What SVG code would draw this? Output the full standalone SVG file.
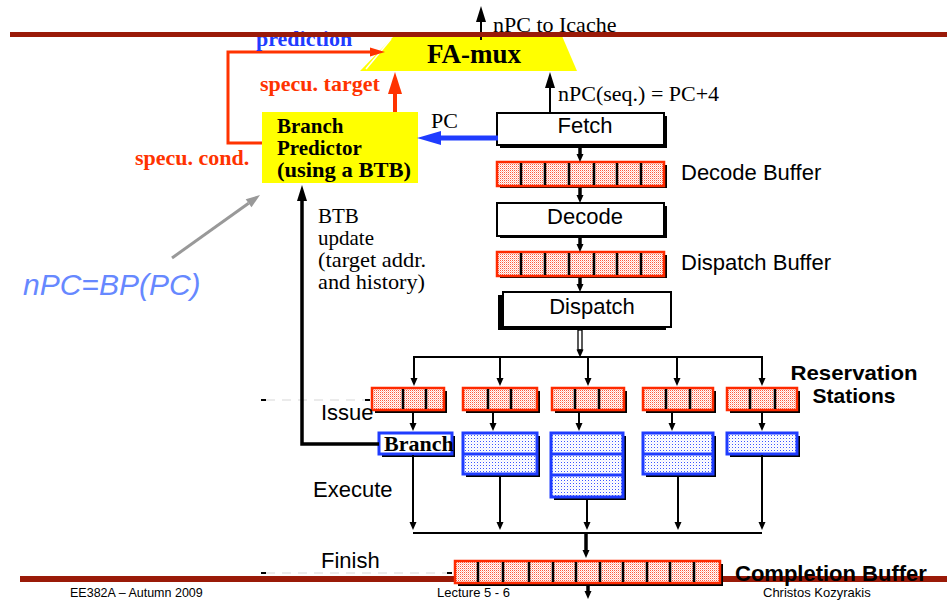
<svg xmlns="http://www.w3.org/2000/svg" width="947" height="600" viewBox="0 0 947 600">
<style>
.sans{font-family:"Liberation Sans",Arial,sans-serif;}
.serif{font-family:"Liberation Serif","Times New Roman",serif;}
.t22{font-size:22px;}
.t21{font-size:21px;}
.b{font-weight:bold;}
.stage{fill:#fff;stroke:#000;stroke-width:2;}
.shadow{fill:#000;}
.rbuf{fill:url(#redDots);stroke:#ff2a00;stroke-width:2.5;}
.fu{fill:url(#blueDots);stroke:#1f3cff;stroke-width:3;}
.fuw{fill:#fff;stroke:#1f3cff;stroke-width:3;}
.div{stroke:#000;stroke-width:2.5;}
.fdiv{stroke:#1f3cff;stroke-width:3;}
.conn{fill:none;stroke:#000;stroke-width:2;}
.thick{fill:none;stroke:#000;stroke-width:3.5;}
.dash{stroke:#d8d8d8;stroke-width:1.2;stroke-dasharray:9 7;}
.tick{stroke:#000;stroke-width:2;}
.brown{fill:#9a1a08;}
.red{fill:#ff3300;}
.blue{fill:#1f3cff;}
</style>
<defs>
<pattern id="redDots" width="2" height="2" patternUnits="userSpaceOnUse">
<rect width="2" height="2" fill="#ffffff"/>
<rect width="1" height="1" fill="#ff5a3c"/>
<rect x="1" y="1" width="1" height="1" fill="#ffc4ba"/>
</pattern>
<pattern id="blueDots" width="3" height="3" patternUnits="userSpaceOnUse">
<rect width="3" height="3" fill="#ffffff"/>
<rect width="1" height="1" fill="#3a55ff"/>
<rect x="1.5" y="1.5" width="1" height="1" fill="#d0d8ff"/>
</pattern>
<marker id="aS" markerUnits="userSpaceOnUse" markerWidth="10" markerHeight="10" refX="0" refY="0" orient="auto" overflow="visible"><path d="M0,-3.5 L8,0 L0,3.5 z" fill="#000"/></marker>
<marker id="aM" markerUnits="userSpaceOnUse" markerWidth="16" markerHeight="12" refX="0" refY="0" orient="auto" overflow="visible"><path d="M0,-5 L16,0 L0,5 z" fill="#000"/></marker>
<marker id="aRed" markerUnits="userSpaceOnUse" markerWidth="22" markerHeight="14" refX="0" refY="0" orient="auto" overflow="visible"><path d="M0,-7 L22,0 L0,7 z" fill="#ff3300"/></marker>
<marker id="aRedS" markerUnits="userSpaceOnUse" markerWidth="15" markerHeight="10" refX="0" refY="0" orient="auto" overflow="visible"><path d="M0,-4.5 L15,0 L0,4.5 z" fill="#ff3300"/></marker>
<marker id="aBlue" markerUnits="userSpaceOnUse" markerWidth="24" markerHeight="14" refX="0" refY="0" orient="auto" overflow="visible"><path d="M0,-7 L24,0 L0,7 z" fill="#1f3cff"/></marker>
<marker id="aGray" markerUnits="userSpaceOnUse" markerWidth="14" markerHeight="10" refX="0" refY="0" orient="auto" overflow="visible"><path d="M0,-5 L14,0 L0,5 z" fill="#999999"/></marker>
</defs>
<rect width="947" height="600" fill="#ffffff"/>

<rect class="brown" x="20" y="576" width="927" height="6"/>

<g id="levels">
<line class="dash" x1="266" y1="400" x2="366" y2="400"/>
<line class="tick" x1="261" y1="400" x2="266" y2="400"/>
<line class="tick" x1="365" y1="400" x2="370" y2="400"/>
<line class="dash" x1="266" y1="573" x2="448" y2="573"/>
<line class="tick" x1="261" y1="573" x2="266" y2="573"/>
<line class="tick" x1="447" y1="573" x2="452" y2="573"/>
</g>

<g id="famux">
<polygon points="394,36 562,36 577,71 360,71" fill="#ffff00"/>
<line x1="391" y1="39" x2="366" y2="69" stroke="#ffffff" stroke-width="1.5"/>
<text class="serif b" x="474" y="63" font-size="27" text-anchor="middle">FA-mux</text>
</g>

<g id="bp">
<rect x="262" y="112" width="156" height="71" fill="#ffff00"/>
<text class="serif b t21" x="277" y="133">Branch</text>
<text class="serif b t21" x="277" y="155">Predictor</text>
<text class="serif b t21" x="277" y="177" textLength="134" lengthAdjust="spacingAndGlyphs">(using a BTB)</text>
</g>

<g id="fetch">
<rect class="shadow" x="500" y="116" width="167" height="32"/>
<rect class="stage" x="497" y="113" width="167" height="32"/>
<text class="sans t22" x="585" y="133" text-anchor="middle">Fetch</text>
</g>
<g id="decodebuf">
<rect class="shadow" x="500" y="165" width="167" height="23"/>
<rect class="rbuf" x="497" y="162" width="167" height="24"/>
<line class="div" x1="521" y1="163" x2="521" y2="185"/>
<line class="div" x1="545" y1="163" x2="545" y2="185"/>
<line class="div" x1="569" y1="163" x2="569" y2="185"/>
<line class="div" x1="594" y1="163" x2="594" y2="185"/>
<line class="div" x1="617" y1="163" x2="617" y2="185"/>
<line class="div" x1="641" y1="163" x2="641" y2="185"/>
<text class="sans t22" x="681" y="180">Decode Buffer</text>
</g>
<g id="decode">
<rect class="shadow" x="500" y="206" width="167" height="32"/>
<rect class="stage" x="497" y="203" width="167" height="33"/>
<text class="sans t22" x="585" y="224" text-anchor="middle">Decode</text>
</g>
<g id="dispatchbuf">
<rect class="shadow" x="500" y="255" width="167" height="23"/>
<rect class="rbuf" x="497" y="252" width="167" height="24"/>
<line class="div" x1="521" y1="253" x2="521" y2="275"/>
<line class="div" x1="545" y1="253" x2="545" y2="275"/>
<line class="div" x1="569" y1="253" x2="569" y2="275"/>
<line class="div" x1="594" y1="253" x2="594" y2="275"/>
<line class="div" x1="617" y1="253" x2="617" y2="275"/>
<line class="div" x1="641" y1="253" x2="641" y2="275"/>
<text class="sans t22" x="681" y="270">Dispatch Buffer</text>
</g>
<g id="dispatch">
<rect class="shadow" x="498" y="295" width="168" height="35"/>
<rect class="stage" x="503" y="292" width="168" height="35"/>
<text class="sans t22" x="592" y="314" text-anchor="middle">Dispatch</text>
</g>

<g id="rs1">
<rect class="shadow" x="375" y="391" width="72" height="22"/>
<rect class="rbuf" x="372" y="388" width="72" height="22"/>
<line class="div" x1="403" y1="389" x2="403" y2="409"/>
<line class="div" x1="426" y1="389" x2="426" y2="409"/>
</g>
<g id="rs2">
<rect class="shadow" x="466" y="391" width="74" height="22"/>
<rect class="rbuf" x="463" y="388" width="74" height="22"/>
<line class="div" x1="488" y1="389" x2="488" y2="409"/>
<line class="div" x1="511" y1="389" x2="511" y2="409"/>
</g>
<g id="rs3">
<rect class="shadow" x="555" y="391" width="72" height="22"/>
<rect class="rbuf" x="552" y="388" width="72" height="22"/>
<line class="div" x1="575" y1="389" x2="575" y2="409"/>
<line class="div" x1="599" y1="389" x2="599" y2="409"/>
</g>
<g id="rs4">
<rect class="shadow" x="646" y="391" width="70" height="22"/>
<rect class="rbuf" x="643" y="388" width="70" height="22"/>
<line class="div" x1="666" y1="389" x2="666" y2="409"/>
<line class="div" x1="690" y1="389" x2="690" y2="409"/>
</g>
<g id="rs5">
<rect class="shadow" x="730" y="391" width="70" height="22"/>
<rect class="rbuf" x="727" y="388" width="70" height="22"/>
<line class="div" x1="750" y1="389" x2="750" y2="409"/>
<line class="div" x1="775" y1="389" x2="775" y2="409"/>
</g>
<text class="sans b t21" x="854" y="380" text-anchor="middle" textLength="127" lengthAdjust="spacingAndGlyphs">Reservation</text>
<text class="sans b t21" x="854" y="403" text-anchor="middle">Stations</text>

<g id="fu-branch">
<rect class="shadow" x="382" y="436" width="73" height="21"/>
<rect class="fuw" x="379" y="433" width="73" height="21"/>
<text class="serif b t22" x="384" y="451">Branch</text>
</g>
<g id="fu2">
<rect class="shadow" x="466" y="436" width="74" height="41"/>
<rect class="fu" x="463" y="433" width="74" height="41"/>
<line class="fdiv" x1="463" y1="454" x2="537" y2="454"/>
</g>
<g id="fu3">
<rect class="shadow" x="554" y="436" width="72" height="64"/>
<rect class="fu" x="551" y="433" width="72" height="64"/>
<line class="fdiv" x1="550" y1="454" x2="623" y2="454"/>
<line class="fdiv" x1="551" y1="475" x2="623" y2="475"/>
</g>
<g id="fu4">
<rect class="shadow" x="646" y="436" width="70" height="41"/>
<rect class="fu" x="643" y="433" width="70" height="41"/>
<line class="fdiv" x1="643" y1="454" x2="713" y2="454"/>
</g>
<g id="fu5">
<rect class="shadow" x="730" y="436" width="70" height="21"/>
<rect class="fu" x="727" y="433" width="70" height="21"/>
</g>

<g id="completion">
<rect class="shadow" x="458" y="564" width="265" height="22"/>
<rect class="rbuf" x="455" y="561" width="265" height="22"/>
<line class="div" x1="478" y1="562" x2="478" y2="582"/>
<line class="div" x1="503" y1="562" x2="503" y2="582"/>
<line class="div" x1="529" y1="562" x2="529" y2="582"/>
<line class="div" x1="553" y1="562" x2="553" y2="582"/>
<line class="div" x1="576" y1="562" x2="576" y2="582"/>
<line class="div" x1="600" y1="562" x2="600" y2="582"/>
<line class="div" x1="623" y1="562" x2="623" y2="582"/>
<line class="div" x1="647" y1="562" x2="647" y2="582"/>
<line class="div" x1="670" y1="562" x2="670" y2="582"/>
<line class="div" x1="694" y1="562" x2="694" y2="582"/>
</g>

<g id="connectors">
<line class="conn" x1="481" y1="40" x2="481" y2="22" stroke-width="2.5" marker-end="url(#aM)"/>
<line class="conn" x1="550" y1="113" x2="550" y2="88" stroke-width="2.5" marker-end="url(#aM)"/>
<line x1="498" y1="138" x2="441" y2="138" stroke="#1f3cff" stroke-width="5" marker-end="url(#aBlue)"/>
<line x1="395" y1="112" x2="395" y2="94" stroke="#ff3300" stroke-width="4" marker-end="url(#aRed)"/>
<path d="M262,143 H228 V52 H370" fill="none" stroke="#ff3300" stroke-width="3" marker-end="url(#aRedS)"/>
<line x1="172" y1="258" x2="248.6" y2="203.2" stroke="#999999" stroke-width="3" marker-end="url(#aGray)"/>
<path class="thick" d="M379,444 H302 V201" stroke-width="3" marker-end="url(#aM)"/>
<line class="thick" x1="580" y1="148" x2="580" y2="154" stroke-width="3" marker-end="url(#aS)"/>
<line class="thick" x1="580" y1="188" x2="580" y2="195" stroke-width="3" marker-end="url(#aS)"/>
<line class="thick" x1="580" y1="238" x2="580" y2="244" stroke-width="3" marker-end="url(#aS)"/>
<line class="thick" x1="580" y1="278" x2="580" y2="284" stroke-width="3" marker-end="url(#aS)"/>
<rect x="578" y="330" width="4" height="20" fill="#fff" stroke="#000" stroke-width="1.3"/>
<line x1="580" y1="349" x2="580" y2="349.5" stroke="#000" stroke-width="1" marker-end="url(#aS)"/>
<line class="conn" x1="414" y1="357" x2="762" y2="357" stroke-width="2.5"/>
<line class="conn" x1="414" y1="356" x2="414" y2="378" marker-end="url(#aS)"/>
<line class="conn" x1="500" y1="357" x2="500" y2="378" marker-end="url(#aS)"/>
<line class="conn" x1="588" y1="357" x2="588" y2="378" marker-end="url(#aS)"/>
<line class="conn" x1="677" y1="357" x2="677" y2="378" marker-end="url(#aS)"/>
<line class="conn" x1="762" y1="356" x2="762" y2="378" marker-end="url(#aS)"/>
<line class="conn" x1="413" y1="413" x2="413" y2="423" marker-end="url(#aS)"/>
<line class="conn" x1="493" y1="413" x2="493" y2="423" marker-end="url(#aS)"/>
<line class="conn" x1="579" y1="413" x2="579" y2="423" stroke-width="2.5" marker-end="url(#aS)"/>
<line class="conn" x1="672" y1="413" x2="672" y2="423" marker-end="url(#aS)"/>
<line class="conn" x1="762" y1="413" x2="762" y2="423" marker-end="url(#aS)"/>
<line class="conn" x1="413" y1="455" x2="413" y2="522" stroke-width="3" marker-end="url(#aS)"/>
<line class="conn" x1="500" y1="477" x2="500" y2="522" marker-end="url(#aS)"/>
<line class="conn" x1="587" y1="499" x2="587" y2="522" marker-end="url(#aS)"/>
<line class="conn" x1="678" y1="477" x2="678" y2="522" marker-end="url(#aS)"/>
<line class="conn" x1="762" y1="455" x2="762" y2="522" marker-end="url(#aS)"/>
<line class="conn" x1="413" y1="533" x2="762" y2="533" stroke-width="3"/>
<line class="thick" x1="586" y1="533" x2="586" y2="550" stroke-width="4" marker-end="url(#aS)"/>
<line class="thick" x1="588" y1="585" x2="588" y2="591" stroke-width="3.5" marker-end="url(#aS)"/>
</g>

<text class="serif t22" x="493" y="32">nPC to Icache</text>
<text class="serif b t22 blue" x="256" y="46">prediction</text>
<rect class="brown" x="10" y="32" width="937" height="5"/>
<text class="serif b t22 red" x="260" y="91">specu. target</text>
<text class="serif b t22 red" x="135" y="165">specu. cond.</text>
<text class="serif t22" x="431" y="128">PC</text>
<text class="serif t22" x="558" y="101">nPC(seq.) = PC+4</text>
<text class="serif t21" x="318" y="223">BTB</text>
<text class="serif t21" x="318" y="245">update</text>
<text class="serif t21" x="318" y="267" textLength="108" lengthAdjust="spacingAndGlyphs">(target addr.</text>
<text class="serif t21" x="318" y="289" textLength="107" lengthAdjust="spacingAndGlyphs">and history)</text>
<text class="sans" x="23" y="295" font-size="30" font-style="italic" fill="#6688ff">nPC=BP(PC)</text>
<text class="sans t22" x="321" y="420">Issue</text>
<text class="sans t22" x="313" y="497">Execute</text>
<text class="sans t22" x="321" y="568">Finish</text>
<text class="sans b t22" x="735" y="581">Completion Buffer</text>
<text class="sans" x="70" y="597" font-size="12.5">EE382A – Autumn 2009</text>
<text class="sans" x="437" y="597" font-size="13">Lecture 5 - 6</text>
<text class="sans" x="763" y="597" font-size="13">Christos Kozyrakis</text>
</svg>
